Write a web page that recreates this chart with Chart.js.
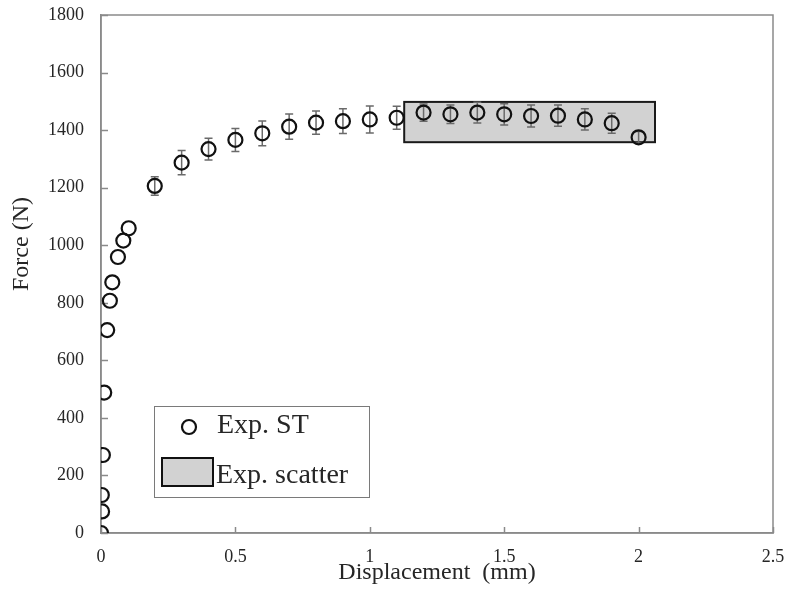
<!DOCTYPE html>
<html>
<head>
<meta charset="utf-8">
<script src="https://cdn.jsdelivr.net/npm/chart.js@4.4.1/dist/chart.umd.min.js"></script>
<style>
  html, body { margin: 0; padding: 0; background: #fff; }
  #wrap { width: 789px; height: 599px; }
</style>
</head>
<body>
<div id="wrap"><canvas id="forceChart" width="789" height="599"></canvas></div>
<script>
// --- Данные: сила от перемещения (Exp. ST) ---
const dispMm = [0, 0.004, 0.003, 0.007, 0.012, 0.023, 0.033, 0.042, 0.063, 0.083, 0.103,
    0.2, 0.3, 0.4, 0.5, 0.6, 0.7, 0.8, 0.9, 1.0, 1.1, 1.2, 1.3, 1.4, 1.5, 1.6, 1.7, 1.8, 1.9, 2.0];
const forceN = [0, 75, 132, 271, 488, 705, 807, 871, 959, 1016, 1059,
    1206, 1287, 1334, 1366, 1389, 1412, 1426, 1431, 1437, 1443, 1461, 1455, 1461, 1455, 1449, 1450, 1437, 1424, 1375];
const errN = [0, 0, 0, 0, 0, 0, 0, 0, 0, 0, 0,
    32, 42, 38, 40, 43, 44, 40, 43, 47, 40, 30, 32, 36, 37, 38, 37, 37, 35, 20];

// Разброс эксперимента (прямоугольник)
const scatterX = [1.128, 2.061];
const scatterY = [1358, 1498];

const xTicks = [0, 0.5, 1, 1.5, 2, 2.5];
const yTicks = [0, 200, 400, 600, 800, 1000, 1200, 1400, 1600, 1800];

const serif = '"Liberation Serif", "Times New Roman", serif';
const textColor = '#262626';
const axisColor = '#8a8a8a';

// --- Плагин: рамка, внутренние засечки, разброс, погрешности, легенда ---
const decorPlugin = {
    id: 'decor',
    beforeDatasetsDraw(chart) {
        const { ctx, scales: { x, y } } = chart;
        const ca = chart.chartArea;
        ctx.save();
        // рамка области графика
        ctx.strokeStyle = axisColor;
        ctx.lineWidth = 1.5;
        ctx.strokeRect(ca.left, ca.top, ca.right - ca.left, ca.bottom - ca.top);
        // засечки внутрь
        ctx.beginPath();
        xTicks.forEach(v => {
            const px = Math.round(x.getPixelForValue(v)) + 0.5;
            ctx.moveTo(px, ca.bottom);
            ctx.lineTo(px, ca.bottom - 6);
        });
        yTicks.forEach(v => {
            const py = Math.round(y.getPixelForValue(v)) + 0.5;
            ctx.moveTo(ca.left, py);
            ctx.lineTo(ca.left + 7, py);
        });
        ctx.stroke();

        // прямоугольник разброса
        const rx0 = x.getPixelForValue(scatterX[0]);
        const rx1 = x.getPixelForValue(scatterX[1]);
        const ry0 = y.getPixelForValue(scatterY[1]);
        const ry1 = y.getPixelForValue(scatterY[0]);
        ctx.fillStyle = '#d2d2d2';
        ctx.fillRect(rx0, ry0, rx1 - rx0, ry1 - ry0);
        ctx.strokeStyle = '#1a1a1a';
        ctx.lineWidth = 2;
        ctx.strokeRect(rx0, ry0, rx1 - rx0, ry1 - ry0);

        // погрешности
        ctx.strokeStyle = '#6a6a6a';
        ctx.lineWidth = 1.5;
        ctx.beginPath();
        dispMm.forEach((d, i) => {
            const e = errN[i];
            if (!e) return;
            const px = x.getPixelForValue(d);
            const top = y.getPixelForValue(forceN[i] + e);
            const bot = y.getPixelForValue(forceN[i] - e);
            ctx.moveTo(px, top);
            ctx.lineTo(px, bot);
            ctx.moveTo(px - 4, top);
            ctx.lineTo(px + 4, top);
            ctx.moveTo(px - 4, bot);
            ctx.lineTo(px + 4, bot);
        });
        ctx.stroke();
        ctx.restore();
    },
    afterDraw(chart) {
        const { ctx } = chart;
        ctx.save();
        // подпись оси Y
        ctx.fillStyle = textColor;
        ctx.font = '24px ' + serif;
        ctx.textAlign = 'center';
        ctx.textBaseline = 'middle';
        ctx.translate(22, 244);
        ctx.rotate(-Math.PI / 2);
        ctx.fillText('Force (N)', 0, 0);
        ctx.restore();

        // легенда
        ctx.save();
        ctx.fillStyle = '#fff';
        ctx.fillRect(154.5, 406.5, 215, 91);
        ctx.strokeStyle = '#7a7a7a';
        ctx.lineWidth = 1;
        ctx.strokeRect(154.5, 406.5, 215, 91);

        ctx.strokeStyle = '#111';
        ctx.lineWidth = 2.2;
        ctx.beginPath();
        ctx.arc(189, 427, 7, 0, Math.PI * 2);
        ctx.stroke();

        ctx.fillStyle = '#d2d2d2';
        ctx.fillRect(162, 458, 51, 28);
        ctx.lineWidth = 2;
        ctx.strokeRect(162, 458, 51, 28);

        ctx.fillStyle = textColor;
        ctx.font = '28px ' + serif;
        ctx.textAlign = 'left';
        ctx.textBaseline = 'alphabetic';
        ctx.fillText('Exp. ST', 217, 433);
        ctx.fillText('Exp. scatter', 216, 483);
        ctx.restore();
    }
};

const ctx = document.getElementById('forceChart').getContext('2d');
new Chart(ctx, {
    type: 'scatter',
    data: {
        datasets: [{
            label: 'Exp. ST',
            data: dispMm.map((d, i) => ({ x: d, y: forceN[i] })),
            pointStyle: 'circle',
            pointRadius: 7,
            pointBorderWidth: 2.2,
            borderColor: '#111',
            backgroundColor: 'rgba(0,0,0,0)',
            showLine: false
        }]
    },
    options: {
        responsive: false,
        animation: false,
        layout: { padding: { top: 15, right: 16, left: 0, bottom: 0 } },
        plugins: { legend: { display: false }, tooltip: { enabled: false } },
        scales: {
            x: {
                type: 'linear', min: 0, max: 2.5,
                afterBuildTicks: s => { s.ticks = xTicks.map(v => ({ value: v })); },
                afterFit: s => { s.height = 66; s.paddingLeft = 0; s.paddingRight = 0; },
                grid: { display: false, drawTicks: false },
                border: { color: axisColor, width: 1.5 },
                ticks: { padding: 13, maxRotation: 0, color: textColor, font: { family: serif, size: 18 }, callback: v => String(v) },
                title: { display: true, text: 'Displacement  (mm)', color: textColor, font: { family: serif, size: 24 }, padding: { top: 0, bottom: 12 } }
            },
            y: {
                type: 'linear', min: 0, max: 1800,
                afterBuildTicks: s => { s.ticks = yTicks.map(v => ({ value: v })); },
                afterFit: s => { s.width = 101; s.paddingTop = 0; s.paddingBottom = 0; },
                grid: { display: false, drawTicks: false },
                border: { color: axisColor, width: 1.5 },
                ticks: { padding: 17, color: textColor, font: { family: serif, size: 18 }, callback: v => String(v) }
            }
        }
    },
    plugins: [decorPlugin]
});
</script>
</body>
</html>
